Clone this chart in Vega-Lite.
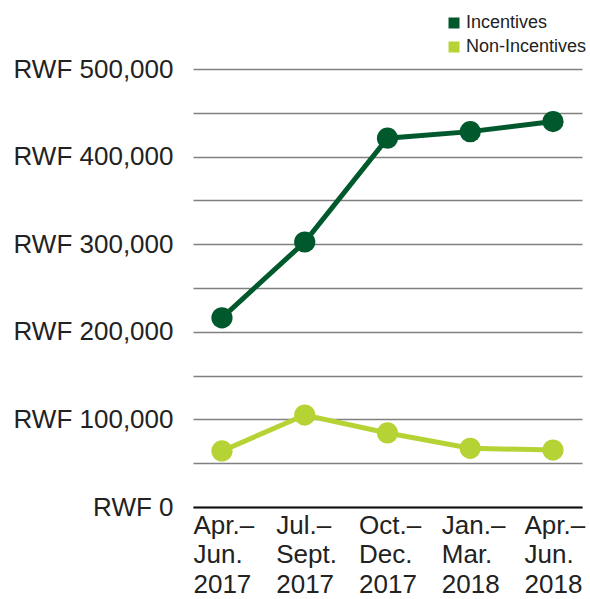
{
  "$schema": "https://vega.github.io/schema/vega-lite/v6.json",
  "autosize": "none",
  "width": 389,
  "height": 438,
  "padding": {"left": 193, "top": 69, "right": 8, "bottom": 92},
  "background": "white",
  "config": {
    "view": {"stroke": null},
    "font": "Liberation Sans"
  },
  "data": {
    "values": [
      {"period": "Apr.– Jun. 2017", "group": "Incentives", "amount": 216000},
      {"period": "Jul.– Sept. 2017", "group": "Incentives", "amount": 302500},
      {"period": "Oct.– Dec. 2017", "group": "Incentives", "amount": 421000},
      {"period": "Jan.– Mar. 2018", "group": "Incentives", "amount": 428500},
      {"period": "Apr.– Jun. 2018", "group": "Incentives", "amount": 440000},
      {"period": "Apr.– Jun. 2017", "group": "Non-Incentives", "amount": 64000},
      {"period": "Jul.– Sept. 2017", "group": "Non-Incentives", "amount": 105000},
      {"period": "Oct.– Dec. 2017", "group": "Non-Incentives", "amount": 84500},
      {"period": "Jan.– Mar. 2018", "group": "Non-Incentives", "amount": 67000},
      {"period": "Apr.– Jun. 2018", "group": "Non-Incentives", "amount": 65000}
    ]
  },
  "encoding": {
    "x": {
      "field": "period",
      "type": "ordinal",
      "sort": null,
      "scale": {"type": "point", "padding": 0.35},
      "axis": {
        "title": null,
        "labelAngle": 0,
        "labelExpr": "split(datum.label, ' ')",
        "labelFontSize": 26,
        "labelLineHeight": 29.5,
        "labelColor": "#222222",
        "labelAlign": "left",
        "labelOffset": -29,
        "labelBaseline": "top",
        "labelPadding": 5,
        "ticks": false,
        "domain": true,
        "domainColor": "#111111",
        "domainWidth": 2,
        "grid": false
      }
    },
    "y": {
      "field": "amount",
      "type": "quantitative",
      "scale": {"domain": [0, 500000], "nice": false},
      "axis": {
        "title": null,
        "values": [0, 50000, 100000, 150000, 200000, 250000, 300000, 350000, 400000, 450000, 500000],
        "labelExpr": "datum.value % 100000 === 0 ? 'RWF ' + format(datum.value, ',') : ''",
        "labelFontSize": 26,
        "labelColor": "#222222",
        "labelPadding": 20,
        "ticks": false,
        "domain": false,
        "grid": true,
        "gridColor": "#808080",
        "gridWidth": 1.3
      }
    },
    "color": {
      "field": "group",
      "type": "nominal",
      "scale": {"domain": ["Incentives", "Non-Incentives"], "range": ["#00592c", "#b5d334"]},
      "legend": {
        "title": null,
        "orient": "none",
        "legendX": 252,
        "legendY": -55,
        "symbolType": "square",
        "symbolSize": 121,
        "symbolStrokeWidth": 0,
        "labelFontSize": 18,
        "labelColor": "#222222",
        "labelOffset": 3,
        "rowPadding": 6,
        "padding": 0
      }
    }
  },
  "layer": [
    {"mark": {"type": "line", "strokeWidth": 5}},
    {"mark": {"type": "point", "filled": true, "size": 450, "opacity": 1}}
  ]
}
